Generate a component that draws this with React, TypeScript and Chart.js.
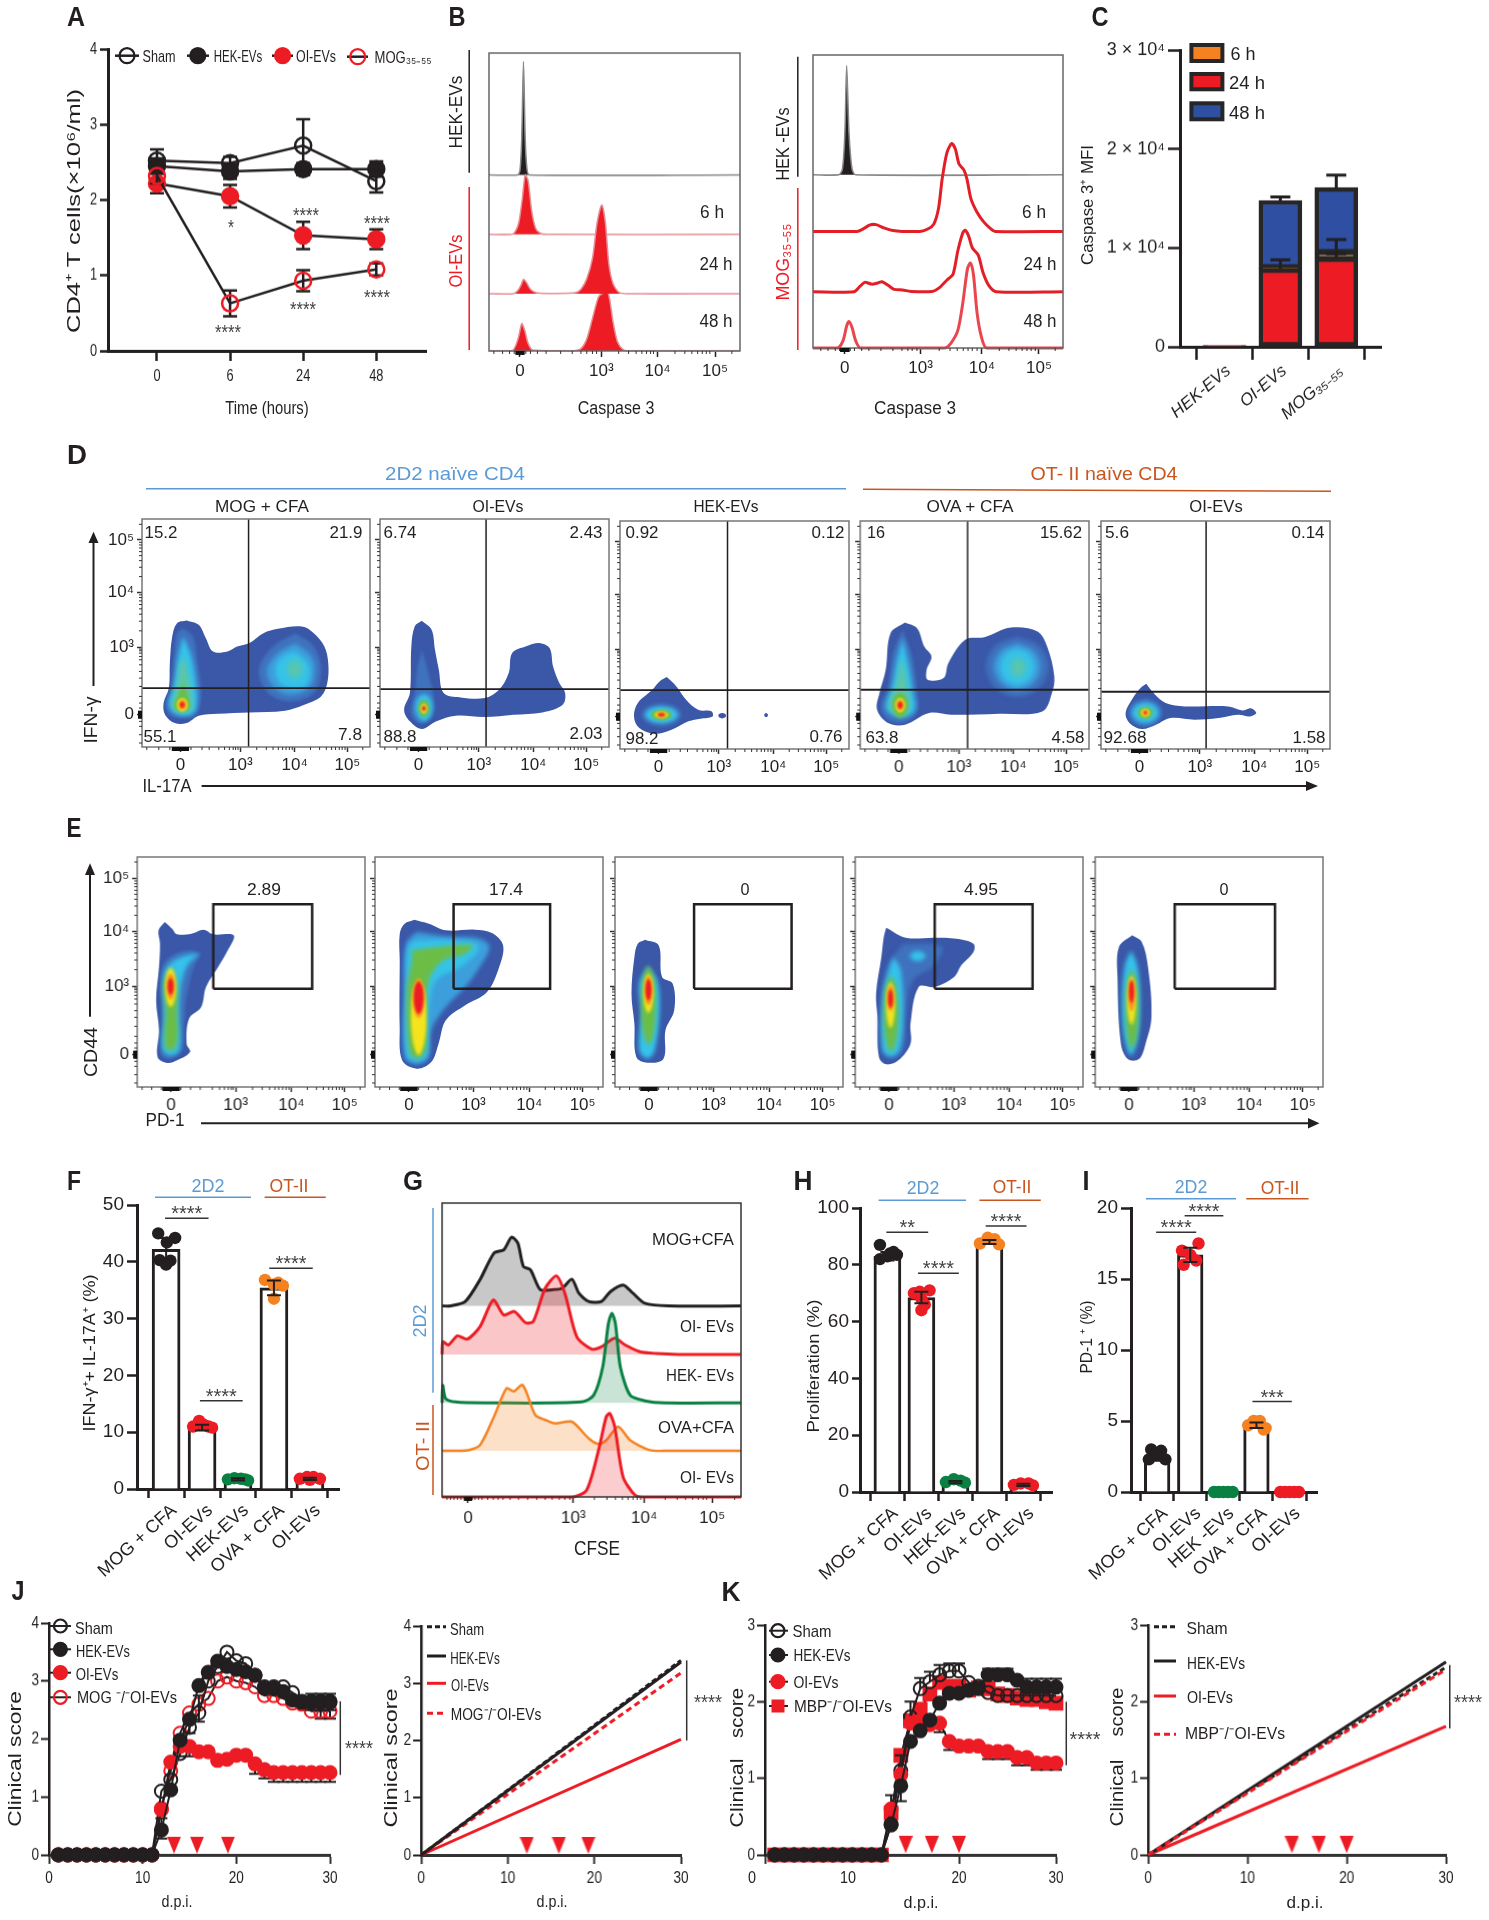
import React, { useEffect, useRef } from "react";
import { Chart, registerables } from "chart.js";

/* ---------- plugin that must run ahead of the Filler ---------- */
const contourBlur = {
  id: "contourBlur",
  beforeDatasetDraw(chart: any, args: any) {
    const b = chart.data.datasets[args.index].blur;
    if (b) chart.ctx.filter = `blur(${b}px)`;
  },
  afterDatasetDraw(chart: any, args: any) {
    if (chart.data.datasets[args.index].blur) chart.ctx.filter = "none";
  },
};
Chart.register(contourBlur as any);
Chart.register(...registerables);

function drawErr(chart: any, i: number) {
  const ds = chart.data.datasets[i];
  const meta = chart.getDatasetMeta(i);
  const yS = chart.scales.y;
  const k = yS.getPixelForValue(0) - yS.getPixelForValue(1);
  const ctx = chart.ctx;
  ctx.save();
  ctx.strokeStyle = ds.errColor || BLACK;
  ctx.lineWidth = ds.errWidth || 2;
  const cap = ds.capW || 7;
  meta.data.forEach((el: any, idx: number) => {
    const e = ds.err[idx];
    if (!e) return;
    const [u, d] = e;
    const x = el.x;
    const y = el.y;
    ctx.beginPath();
    ctx.moveTo(x, y - u * k);
    ctx.lineTo(x, y + d * k);
    if (u > 0) {
      ctx.moveTo(x - cap, y - u * k);
      ctx.lineTo(x + cap, y - u * k);
    }
    if (d > 0) {
      ctx.moveTo(x - cap, y + d * k);
      ctx.lineTo(x + cap, y + d * k);
    }
    ctx.stroke();
  });
  ctx.restore();
}
Chart.register({
  id: "whiskers",
  beforeDatasetDraw(chart: any, args: any) {
    const ds = chart.data.datasets[args.index];
    if (ds.err && !ds.errLate) drawErr(chart, args.index);
  },
  afterDatasetsDraw(chart: any) {
    chart.data.datasets.forEach((ds: any, i: number) => {
      if (ds.err && ds.errLate) drawErr(chart, i);
    });
  },
} as any);

/* ---------- palette and fonts ---------- */
const BLACK = "#231f20";
const RED = "#ed1c24";
const GREEN = "#0b8043";
const AMBER = "#f58220";
const BLUE = "#5b9bd5";
const RUST = "#c8561f";
const NAVY = "#2f4fa3";
const NARROW = '"Liberation Sans Narrow","Liberation Sans",Arial,sans-serif';
const SANS = '"Liberation Sans",Arial,sans-serif';
const DEEP = "#3a57a8";
const MID = "#3f72be";
const SKY = "#3c9fdc";
const CYAN = "#35c3ea";
const TEAL = "#5cc6a8";
const LEAF = "#6cbd45";
const YEL = "#f5e31d";
const ORG = "#f7941d";
const HOT = "#ed1c24";

/* ---------- A ---------- */
const A_TIMES = ["0", "6", "24", "48"];
const A_SHAM = [2.52, 2.49, 2.72, 2.25];
const A_HEK = [2.45, 2.38, 2.41, 2.41];
const A_OI = [2.22, 2.05, 1.53, 1.48];
const A_MOG = [2.32, 0.63, 0.93, 1.08];
const A_SHAM_ERR = [0.15, 0.08, 0.35, 0.15];
const A_HEK_ERR = [0.1, 0.1, 0.08, 0.1];
const A_OI_ERR = [0.13, 0.15, 0.18, 0.13];
const A_MOG_ERR = [0.1, 0.17, 0.14, 0.08];

/* ---------- B: histogram traces, [channel, height] ---------- */
const DECADE_LABELS = ["0", "10³", "10⁴", "10⁵"];
const B1_TICKS = [0, 1.4, 2.37, 3.36];
const B1_MINOR = [-0.45, -0.3, -0.18, -0.1, -0.05, 0.05, 0.1, 0.18, 0.3, 0.45, 0.7, 0.9, 1.05, 1.15, 1.25, 1.32, 1.7, 1.87, 2.0, 2.1, 2.18, 2.25, 2.3, 2.67, 2.84, 2.96, 3.06, 3.14, 3.21, 3.27, 3.65];
const B1_HEK = [[-0.04, 0], [0, 1.5], [0.03, 12], [0.06, 38], [0.09, 12], [0.12, 2], [0.16, 0]];
const B1_6H = [[-0.14, 0], [-0.08, 1], [-0.02, 4], [0.04, 12], [0.09, 20], [0.14, 18], [0.2, 8], [0.27, 2], [0.36, 0.3], [0.45, 0]];
const B1_24H = [[-0.12, 0], [-0.04, 1], [0.02, 3], [0.06, 4.8], [0.11, 3.8], [0.18, 1.5], [0.28, 0.3], [0.5, 0.1], [0.95, 0.3], [1.05, 1.5], [1.15, 5], [1.25, 12], [1.33, 24], [1.41, 29.8], [1.47, 24], [1.53, 10], [1.6, 3.5], [1.7, 0.5], [1.85, 0]];
const B1_48H = [[-0.14, 0], [-0.08, 1.5], [-0.02, 5], [0.03, 9.2], [0.08, 7], [0.14, 2.5], [0.22, 0.3], [0.9, 0], [1.05, 0.8], [1.15, 4], [1.25, 11], [1.35, 18], [1.42, 19.3], [1.52, 19.3], [1.6, 10], [1.68, 3], [1.78, 0.4], [1.9, 0]];
const B2_TICKS = [0, 1.26, 2.28, 3.23];
const B2_MINOR = [-0.4, -0.28, -0.16, -0.09, -0.04, 0.04, 0.09, 0.16, 0.28, 0.4, 0.6, 0.8, 0.95, 1.05, 1.12, 1.2, 1.57, 1.75, 1.87, 1.97, 2.05, 2.12, 2.2, 2.57, 2.73, 2.85, 2.95, 3.03, 3.1, 3.17, 3.5];
const B2_HEK = [[-0.1, 0], [-0.04, 2], [0, 14], [0.03, 37.2], [0.07, 14], [0.12, 2], [0.18, 0]];
const B2_6H = [[0.2, 0], [0.3, 0.8], [0.42, 2.2], [0.52, 2.3], [0.65, 1.2], [0.8, 0.3], [0.95, 0], [1.25, 0], [1.38, 0.8], [1.48, 2.5], [1.56, 8], [1.62, 18], [1.7, 27], [1.78, 30], [1.84, 28], [1.9, 23], [1.98, 21], [2.03, 18], [2.1, 11], [2.2, 6.5], [2.3, 3.5], [2.42, 1], [2.5, 0]];
const B2_24H = [[0.15, 0], [0.25, 1.8], [0.33, 3.2], [0.45, 2.6], [0.55, 3], [0.62, 3.4], [0.72, 2.2], [0.82, 0.8], [0.96, 0.6], [1.1, 0.1], [1.45, 0.1], [1.58, 1.5], [1.7, 4], [1.8, 6], [1.88, 14], [1.96, 20], [2.0, 21], [2.06, 19], [2.12, 15], [2.22, 12.5], [2.3, 6.5], [2.4, 2], [2.52, 0]];
const B2_48H = [[-0.12, 0], [-0.03, 2.5], [0.03, 7.5], [0.07, 9], [0.12, 7], [0.18, 2.5], [0.26, 0], [1.66, 0], [1.76, 1.5], [1.88, 6], [1.96, 15], [2.04, 27], [2.09, 29], [2.14, 25], [2.2, 12], [2.27, 4], [2.36, 0]];

/* ---------- C ---------- */
const C_LABELS = ["HEK-EVs", "OI-EVs", "MOG₃₅₋₅₅"];
const C_24H = [150, 7900, 9000];
const C_6H = [0, 50, 450];
const C_48H = [0, 6850, 6650];
const C_24H_ERR = [null, [900, 0], [400, 0]];
const C_6H_ERR = [null, null, [1400, 0]];
const C_48H_ERR = [null, [350, 0], [1250, 0]];

/* ---------- D: density contours in cytometer channels ---------- */
const D_X_TICKS = [0, 125, 238, 348];
const D_Y_TICKS = [0, 202, 368, 525];
const D_X_MINOR = [-70, -45, -22, -10, -5, 5, 10, 22, 45, 60, 80, 92, 102, 110, 115, 120, 159, 179, 193, 204, 213, 220, 227, 233, 271, 290, 304, 315, 323, 331, 337, 343, 380];
const D_Y_MINOR = [-85, -60, -35, -20, -10, -5, 5, 10, 20, 35, 55, 85, 110, 130, 150, 165, 175, 185, 192, 197, 252, 281, 302, 318, 331, 342, 352, 360, 415, 443, 463, 478, 490, 501, 510, 518, 572];

const D1_OUTER = [[13, 283], [38, 270], [53, 230], [68, 190], [98, 190], [118, 205], [143, 215], [173, 245], [203, 258], [253, 265], [278, 245], [300, 205], [308, 155], [306, 95], [293, 55], [258, 30], [218, 12], [143, 7], [78, 3], [38, -3], [13, -25], [-12, -25], [-32, 0], [-35, 35], [-24, 80], [-22, 155], [-17, 235], [-7, 275]];
const D1_L1 = [[6, 260], [26, 235], [36, 155], [43, 75], [40, 25], [28, -5], [3, -10], [-22, 0], [-30, 30], [-19, 85], [-12, 195], [-7, 245]];
const D1_L2 = [[6, 235], [23, 175], [33, 85], [33, 20], [20, 0], [-10, 3], [-24, 30], [-14, 85], [-5, 175]];
const D1_L3 = [[8, 175], [20, 95], [26, 30], [16, 7], [-7, 9], [-17, 30], [-7, 95], [0, 155]];
const D1_L4 = [[6, 95], [18, 45], [20, 23], [10, 12], [-6, 13], [-14, 27], [-6, 55]];
const D1_R1 = [[240, 245], [278, 205], [293, 135], [278, 65], [228, 40], [183, 65], [163, 135], [193, 205]];
const D1_R2 = [[240, 215], [273, 175], [280, 125], [268, 80], [228, 60], [193, 85], [180, 135], [203, 185]];
const D1_R3 = [[238, 190], [263, 160], [270, 125], [260, 87], [233, 80], [208, 95], [198, 140], [213, 175]];
const D2_OUTER = [[7, 282], [27, 255], [34, 195], [42, 135], [52, 65], [87, 52], [137, 50], [167, 75], [187, 125], [194, 185], [222, 205], [252, 215], [272, 200], [279, 145], [292, 95], [304, 65], [299, 30], [257, 7], [197, 0], [137, -7], [77, -3], [37, -20], [7, -43], [-18, -20], [-30, 15], [-18, 65], [-15, 205], [-8, 265]];
const D2_L1 = [[7, 195], [22, 115], [32, 45], [27, -5], [2, -25], [-15, 5], [-8, 65], [-3, 135]];
const D3_OUTER = [[17, 119], [37, 91], [57, 51], [82, 21], [110, 16], [112, 1], [87, -6], [62, -14], [27, -39], [-8, -51], [-40, -34], [-51, 1], [-43, 41], [-13, 81], [2, 106]];
const D4_OUTER = [[13, 283], [38, 266], [53, 211], [68, 181], [58, 141], [60, 111], [93, 116], [103, 161], [138, 231], [178, 239], [233, 268], [288, 256], [308, 211], [323, 121], [318, 71], [298, 16], [208, 9], [108, 6], [63, 11], [13, -24], [-22, -19], [-45, 21], [-40, 71], [-27, 141], [-17, 251]];
const D4_L1 = [[8, 261], [28, 181], [38, 71], [40, 21], [13, -17], [-22, -9], [-37, 31], [-22, 91], [-12, 191]];
const D4_L2 = [[8, 236], [20, 161], [30, 71], [33, 21], [13, -1], [-14, 6], [-27, 31], [-14, 91], [-4, 171]];
const D4_L3 = [[6, 181], [18, 91], [23, 26], [8, 6], [-10, 11], [-20, 36], [-7, 91]];
const D5_OUTER = [[14, 99], [29, 71], [54, 41], [94, 31], [184, 31], [214, 19], [232, 25], [242, 11], [229, 1], [204, 6], [164, -4], [114, -9], [64, -4], [34, -24], [4, -37], [-21, -19], [-29, 11], [-16, 51], [2, 86]];

/* ---------- E ---------- */
const E_X_TICKS = [0, 133, 248, 358];
const E_Y_TICKS = [0, 205, 371, 528];
const E_X_MINOR = [-60, -40, -20, -10, -5, 5, 10, 20, 40, 60, 85, 100, 110, 118, 124, 128, 168, 188, 203, 214, 222, 230, 237, 243, 281, 300, 314, 325, 333, 341, 347, 353, 390];
const E_Y_MINOR = [-85, -60, -35, -20, -10, -5, 5, 10, 20, 35, 55, 85, 112, 132, 152, 167, 178, 188, 195, 200, 255, 284, 305, 321, 334, 345, 355, 363, 418, 446, 466, 481, 493, 504, 513, 521, 578];
const E1_OUTER = [[-13, 398], [2, 378], [12, 361], [42, 363], [67, 375], [87, 361], [129, 358], [117, 313], [97, 263], [72, 203], [62, 143], [37, 108], [32, 33], [39, 8], [12, -17], [-8, -25], [-28, -7], [-25, 73], [-31, 163], [-25, 263], [-23, 333], [-26, 373]];
const E1_L1 = [[62, 303], [47, 263], [32, 173], [27, 93], [22, 13], [-3, -12], [-21, 3], [-18, 113], [-21, 243], [-3, 293], [37, 313]];
const E1_L2 = [[57, 303], [32, 263], [19, 193], [17, 113], [17, 13], [-3, -2], [-18, 18], [-15, 113], [-16, 233], [-3, 273], [32, 298]];
const E1_L3 = [[-1, 263], [12, 213], [12, 133], [12, 33], [-3, 11], [-13, 33], [-11, 133], [-15, 213]];
const E2_OUTER = [[11, 405], [41, 393], [76, 373], [136, 375], [171, 365], [194, 328], [186, 263], [161, 188], [116, 148], [76, 103], [61, 33], [46, -22], [16, -42], [-14, -17], [-19, 83], [-19, 283], [-19, 363], [-9, 393]];
const E2_L1 = [[16, 368], [76, 355], [146, 348], [166, 323], [146, 263], [116, 203], [76, 143], [46, 73], [41, -7], [16, -29], [-9, -7], [-11, 183], [-6, 333]];
const E2_L2 = [[16, 343], [86, 343], [141, 333], [141, 308], [106, 263], [56, 223], [41, 133], [36, -2], [16, -19], [-4, -2], [-4, 233], [-1, 323]];
const E2_L3 = [[6, 313], [76, 325], [131, 328], [116, 303], [71, 283], [41, 223], [36, 133], [34, 13], [16, -12], [1, 13], [-4, 193], [6, 283]];
const E3_OUTER = [[-8, 345], [20, 328], [27, 233], [49, 213], [52, 133], [34, 73], [30, -12], [-3, -24], [-26, -7], [-30, 93], [-36, 183], [-30, 293], [-23, 333]];
const E3_L2 = [[-3, 263], [17, 223], [22, 133], [12, 13], [-3, -12], [-20, 13], [-16, 133], [-20, 213]];
const E4_OUTER = [[-6, 381], [34, 351], [94, 351], [139, 348], [174, 333], [174, 308], [149, 268], [134, 233], [94, 203], [61, 203], [44, 93], [44, 33], [19, -17], [-6, -29], [-21, -7], [-24, 113], [-27, 183], [-16, 293], [-11, 353]];
const E4_L1 = [[29, 333], [109, 323], [89, 263], [49, 223], [34, 113], [29, 13], [4, -12], [-16, 13], [-16, 173], [-1, 273]];
const E4_L2 = [[9, 293], [24, 253], [29, 113], [21, 13], [4, -5], [-13, 13], [-13, 173], [-1, 253]];
const E5_OUTER = [[6, 358], [26, 338], [39, 263], [46, 113], [34, 33], [21, -12], [-2, -14], [-17, 33], [-24, 233], [-21, 323]];

/* ---------- F, H, I ---------- */
const GROUPS = ["MOG + CFA", "OI-EVs", "HEK-EVs", "OVA + CFA", "OI-EVs"];
const GROUPS_I = ["MOG + CFA", "OI-EVs", "HEK -EVs", "OVA + CFA", "OI-EVs"];
const GROUP_COLORS = [BLACK, RED, GREEN, AMBER, RED];
const F_MEANS = [42.2, 10.8, 1.7, 35.4, 1.8];
const F_ERR = [[2, 2], [0.5, 0.5], [0.2, 0.2], [1.3, 1.3], [0.2, 0.2]];
const F_DOTS = [
  [[-0.22, 45], [0.25, 44.2], [0.02, 43.4], [-0.18, 40.3], [0.12, 40.2], [0, 39.5]],
  [[-0.25, 11], [-0.08, 12], [0.05, 11.3], [0.18, 11], [0.28, 10.8]],
  [[-0.28, 1.7], [-0.1, 1.9], [0.08, 1.8], [0.2, 1.7], [0.28, 1.5]],
  [[-0.25, 36.8], [0, 36], [0.25, 35.8], [0, 33.5], [0.12, 36.3]],
  [[-0.28, 1.8], [-0.08, 2.1], [0.1, 2.1], [0.28, 1.8], [0, 1.6]],
];
const H_MEANS = [83, 68.5, 3.5, 88, 2.5];
const H_ERR = [[1.5, 1.5], [2, 2], [0.4, 0.4], [0.7, 0.7], [0.4, 0.4]];
const H_DOTS = [
  [[-0.22, 87], [0.18, 84.5], [0.28, 83.5], [-0.22, 82], [0, 83], [0.08, 84]],
  [[-0.22, 70], [0.24, 71], [0, 68], [0, 64], [0.1, 66], [-0.05, 70.5]],
  [[-0.28, 3.5], [-0.05, 4.5], [0.15, 4], [0.28, 3.3]],
  [[-0.28, 87.5], [-0.05, 89.5], [0.15, 89], [0.28, 87.2]],
  [[-0.28, 2.5], [-0.08, 3], [0.15, 3], [0.28, 2.3]],
];
const I_MEANS = [2.5, 16.7, 0.05, 4.7, 0.05];
const I_ERR = [[0.3, 0.3], [0.5, 0.5], null, [0.2, 0.2], null];
const I_DOTS = [
  [[-0.18, 3], [0.12, 2.9], [-0.25, 2.3], [0.25, 2.3], [0, 2.6]],
  [[-0.25, 17], [0.25, 17.5], [0, 16.7], [-0.2, 16], [0.18, 16.3]],
  [[-0.28, 0], [-0.14, 0], [0, 0], [0.14, 0], [0.28, 0]],
  [[-0.25, 4.7], [-0.08, 5], [0.1, 5], [0.28, 4.5], [0.22, 4.4]],
  [[-0.28, 0], [-0.14, 0], [0, 0], [0.14, 0], [0.28, 0]],
];
const F_BRACKETS = [{ x1: -0.03, x2: 1.18, y: 47.65, s: "****" }, { x1: 0.94, x2: 2.13, y: 15.55, s: "****" }, { x1: 2.87, x2: 4.08, y: 38.85, s: "****" }];
const H_BRACKETS = [{ x1: -0.03, x2: 1.2, y: 91.5, s: "**" }, { x1: 0.9, x2: 2.1, y: 77, s: "****" }, { x1: 2.89, x2: 4.09, y: 93.7, s: "****" }];
const I_BRACKETS = [{ x1: -0.03, x2: 1.18, y: 18.3, s: "****" }, { x1: 0.83, x2: 2, y: 19.45, s: "****" }, { x1: 2.88, x2: 4.07, y: 6.37, s: "***" }];

/* ---------- G ---------- */
const G_TICKS = [0, 1.5, 2.51, 3.48];
const G_MINOR = [-0.3, -0.25, -0.2, -0.15, -0.1, -0.05, 0.03, 0.06, 0.1, 0.15, 0.2, 0.28, 0.36, 0.43, 0.5, 0.6, 0.72, 0.85, 0.98, 1.1, 1.2, 1.3, 1.38, 1.45, 1.8, 1.98, 2.1, 2.2, 2.28, 2.35, 2.41, 2.46, 2.81, 2.98, 3.1, 3.2, 3.28, 3.35, 3.4, 3.8];
const G_MOG = [[-0.25, 0], [-0.04, 1.5], [0.17, 8.9], [0.37, 18], [0.51, 19.1], [0.62, 23.4], [0.71, 21.4], [0.79, 13.4], [0.89, 12.3], [1.03, 5.5], [1.2, 5.5], [1.34, 6], [1.48, 9.1], [1.58, 4.3], [1.72, 1.5], [1.9, 1.5], [2.03, 4.9], [2.21, 7.1], [2.35, 4.3], [2.52, 0.9], [2.86, 0]];
const G_OI = [[-0.36, 4.3], [-0.28, 3.2], [-0.15, 6.3], [-0.01, 5.2], [0.17, 9.4], [0.36, 18.5], [0.51, 13.4], [0.66, 14.6], [0.82, 10.8], [0.93, 11.2], [1.1, 22.5], [1.26, 26.7], [1.38, 20.8], [1.55, 6], [1.76, 1.8], [1.9, 2.6], [2.09, 5.5], [2.24, 3.2], [2.45, 0.9], [2.69, 0.3], [3, 0]];
const G_HEK = [[-0.36, 6], [-0.32, 1.5], [-0.18, 0.3], [0.24, 0], [1.62, 0.3], [1.79, 2.6], [1.92, 12.3], [2, 27], [2.05, 30.5], [2.1, 27], [2.17, 12.3], [2.31, 2.6], [2.52, 0.7], [2.8, 0]];
const G_OVA = [[0, 0.2], [0.17, 1.9], [0.37, 11.6], [0.55, 21.3], [0.65, 20.2], [0.78, 22.4], [0.96, 12.1], [1.1, 10.5], [1.24, 9.3], [1.48, 9.9], [1.72, 4.2], [1.86, 2.3], [1.97, 3.6], [2.14, 8.2], [2.31, 3.6], [2.59, 0.2], [2.86, 0]];
const G_OI2 = [[1.48, 0], [1.69, 2.3], [1.86, 15.9], [1.97, 27.3], [2.02, 28.4], [2.09, 23.9], [2.21, 6.8], [2.38, 0.6], [2.52, 0]];

/* ---------- J, K ---------- */
const DAYS = [1, 2, 3, 4, 5, 6, 7, 8, 9, 10, 11, 12, 13, 14, 15, 16, 17, 18, 19, 20, 21, 22, 23, 24, 25, 26, 27, 28, 29, 30];
const J_SHAM = [0, 0, 0, 0, 0, 0, 0, 0, 0, 0, 0, 1.1, 1.3, 1.75, 2.2, 2.45, 3.0, 3.25, 3.5, 3.35, 3.3, 3.1, 2.9, 2.9, 2.9, 2.8, 2.65, 2.65, 2.65, 2.65];
const J_HEK = [0, 0, 0, 0, 0, 0, 0, 0, 0, 0, 0, 0.43, 1.12, 1.98, 2.34, 2.92, 3.15, 3.34, 3.25, 3.2, 3.16, 3.1, 2.87, 2.87, 2.82, 2.67, 2.63, 2.63, 2.63, 2.63];
const J_OI = [0, 0, 0, 0, 0, 0, 0, 0, 0, 0, 0, 0.78, 1.6, 1.87, 1.87, 1.78, 1.78, 1.63, 1.65, 1.72, 1.72, 1.57, 1.47, 1.42, 1.42, 1.42, 1.42, 1.42, 1.42, 1.42];
const J_MOG = [0, 0, 0, 0, 0, 0, 0, 0, 0, 0, 0, 0.8, 1.45, 2.1, 2.45, 2.6, 2.7, 3.0, 3.07, 3.0, 2.97, 2.9, 2.75, 2.75, 2.7, 2.62, 2.6, 2.48, 2.48, 2.48];
const J_HEK_ERR: any = { 12: [0.2, 0.15], 28: [0.15, 0.13], 29: [0.15, 0.13], 30: [0.15, 0.13] };
const J_SHAM_ERR: any = { 15: [0.2, 0.1], 16: [0.3, 0.15] };
const J_OI_ERR: any = { 14: [0, 0.17], 15: [0, 0.17], 22: [0, 0.17], 23: [0, 0.15], 24: [0, 0.16], 25: [0, 0.16], 26: [0, 0.16], 27: [0, 0.16], 28: [0, 0.16], 29: [0, 0.16], 30: [0, 0.16] };
const J_MOG_ERR: any = { 29: [0, 0.13], 30: [0, 0.13] };
const J_DOSES = [13.35, 15.8, 19.1];
const J2_DOSES = [12.2, 15.9, 19.3];
const LINE_X = [0, 30];
const J2_SHAM = [0, 3.4];
const J2_HEK = [0, 3.37];
const J2_OI = [0, 2.02];
const J2_MOG = [0, 3.18];
const K_SHAM = [0, 0, 0, 0, 0, 0, 0, 0, 0, 0, 0, 0, 0.4, 1.1, 1.8, 2.17, 2.26, 2.35, 2.4, 2.4, 2.25, 2.2, 2.12, 2.08, 2.08, 2.08, 2.08, 2.08, 2.08, 2.08];
const K_HEK = [0, 0, 0, 0, 0, 0, 0, 0, 0, 0, 0, 0, 0.39, 0.9, 1.48, 1.62, 1.76, 1.98, 2.11, 2.11, 2.15, 2.17, 2.35, 2.35, 2.35, 2.28, 2.19, 2.19, 2.19, 2.19];
const K_OI = [0, 0, 0, 0, 0, 0, 0, 0, 0, 0, 0, 0, 0.6, 1.05, 1.72, 1.75, 1.7, 1.72, 1.48, 1.42, 1.42, 1.42, 1.35, 1.35, 1.35, 1.27, 1.27, 1.2, 1.2, 1.2];
const K_MBP = [0, 0, 0, 0, 0, 0, 0, 0, 0, 0, 0, 0, 0.55, 1.3, 1.75, 1.9, 2.1, 2.25, 2.2, 2.2, 2.15, 2.18, 2.17, 2.1, 2.08, 2.05, 2.03, 2.03, 2.0, 1.98];
const K_HEK_ERR: any = { 14: [0.06, 0.2], 22: [0.08, 0], 23: [0.08, 0], 24: [0.08, 0], 25: [0.08, 0], 27: [0.11, 0], 28: [0.11, 0], 29: [0.11, 0], 30: [0.11, 0] };
const K_SHAM_ERR: any = { 15: [0.2, 0], 16: [0.14, 0], 17: [0.13, 0], 18: [0.13, 0], 19: [0.1, 0], 20: [0.1, 0] };
const K_OI_ERR: any = { 13: [0.18, 0.18], 14: [0.25, 0], 18: [0, 0.12], 19: [0, 0.11], 23: [0, 0.1], 24: [0, 0.1], 25: [0, 0.1], 26: [0, 0.1], 27: [0, 0.1], 28: [0, 0.09], 29: [0, 0.09], 30: [0, 0.09] };
const K_DOSES = [14.5, 17.2, 20];
const K2_DOSES = [14.48, 17.2, 20];
const K2_SHAM = [0, 2.45];
const K2_HEK = [0, 2.52];
const K2_OI = [0, 1.68];
const K2_MBP = [0, 2.42];

/* ---------- helpers ---------- */
const pts = (xs: number[], ys: number[]) => xs.map((x, i) => ({ x, y: ys[i] }));
const closed = (p: number[][]) => [...p, p[0]].map(([x, y]) => ({ x, y }));
const spot = (cx: number, cy: number, rx: number, ry: number) =>
  closed([
    [cx, cy + ry], [cx + 0.7 * rx, cy + 0.7 * ry], [cx + rx, cy], [cx + 0.7 * rx, cy - 0.7 * ry],
    [cx, cy - ry], [cx - 0.7 * rx, cy - 0.7 * ry], [cx - rx, cy], [cx - 0.7 * rx, cy + 0.7 * ry],
  ]);
const poly = closed;

function contourSets(list: any[]) {
  return list.map(([color, blur, data]: any, i: number) => ({
    type: "scatter", showLine: true, data, borderWidth: 0, pointRadius: 0, fill: "shape",
    backgroundColor: color, tension: 0.35, order: 100 - i, blur, clip: false,
  }));
}
function lineSet(data: any[], color: string, width: number, order = -1) {
  return { type: "scatter", showLine: true, data, borderColor: color, borderWidth: width, pointRadius: 0, fill: false, tension: 0, order, backgroundColor: "transparent" };
}
function histSet(p: number[][], base: number, xr: number[], line: string, fill: string | null, lw: number, order: number) {
  const data = [{ x: xr[0], y: base }, ...p.map(([x, h]) => ({ x, y: base + h })), { x: xr[1], y: base }];
  return {
    type: "scatter", showLine: true, data, borderColor: line, borderWidth: lw, pointRadius: 0,
    fill: fill ? { value: base } : false, backgroundColor: fill || "transparent", tension: 0.25, order, clip: false,
  };
}
function triangle(color: string) {
  const c = document.createElement("canvas");
  c.width = 14; c.height = 17;
  const x = c.getContext("2d")!;
  x.fillStyle = color;
  x.beginPath(); x.moveTo(0, 0); x.lineTo(14, 0); x.lineTo(7, 17); x.closePath(); x.fill();
  return c;
}
function doseSet(xs: number[], y: number) {
  return {
    type: "scatter", data: xs.map((x) => ({ x, y })), pointStyle: triangle(RED), pointRadius: 8,
    backgroundColor: RED, order: -5, clip: false,
  };
}
function scale(axis: "x" | "y", s: any) {
  return {
    type: "linear", min: s.min, max: s.max, offset: false, stacked: s.stacked,
    afterFit: (sc: any) => { if (axis === "x") sc.height = s.margin; else sc.width = s.margin; },
    afterBuildTicks: (sc: any) => { sc.ticks = (s.ticks || []).map((v: number) => ({ value: v })); },
    grid: { display: !!s.ticks, drawOnChartArea: false, drawTicks: true, tickLength: s.tl ?? 6, tickWidth: s.tw ?? 2, tickColor: s.c ?? BLACK },
    border: { display: s.bw !== 0, color: s.c ?? BLACK, width: s.bw ?? 2.5 },
    ticks: {
      autoSkip: false, display: s.show !== false && !!s.ticks, color: BLACK, padding: s.pad ?? 4,
      maxRotation: s.rot ?? 0, minRotation: s.rot ?? 0, labelOffset: s.lo ?? 0,
      font: { family: SANS, size: s.size ?? 17, style: s.italic ? "italic" : "normal" },
      callback: (v: number, i: number) => (s.labels ? s.labels[i] : String(v)),
    },
  };
}
const framePlugin = (color: string, width: number) => ({
  id: "frame",
  afterDraw(chart: any) {
    const { left, right, top, bottom } = chart.chartArea;
    const c = chart.ctx;
    c.save(); c.strokeStyle = color; c.lineWidth = width; c.strokeRect(left, top, right - left, bottom - top); c.restore();
  },
});
const rugPlugin = (xs: number[], ys: number[], xBand?: number, yBand?: number) => ({
  id: "rug",
  afterDraw(chart: any) {
    const { left, bottom } = chart.chartArea;
    const c = chart.ctx; const { x, y } = chart.scales;
    c.save(); c.strokeStyle = "#333"; c.fillStyle = "#111"; c.lineWidth = 1; c.beginPath();
    xs.forEach((v) => { const p = x.getPixelForValue(v); c.moveTo(p, bottom); c.lineTo(p, bottom + 3); });
    ys.forEach((v) => { const p = y.getPixelForValue(v); c.moveTo(left, p); c.lineTo(left - 3, p); });
    c.stroke();
    if (xBand) {
      const a = x.getPixelForValue(-xBand), e = x.getPixelForValue(xBand);
      c.fillRect(a, bottom, e - a, 4);
    }
    if (yBand) {
      const a = y.getPixelForValue(yBand), e = y.getPixelForValue(-yBand);
      c.fillRect(left - 4, a, 4, e - a);
    }
    c.restore();
  },
});
const bracketPlugin = (list: any[]) => ({
  id: "brackets",
  afterDraw(chart: any) {
    const c = chart.ctx; const { x, y } = chart.scales;
    c.save(); c.strokeStyle = "#333"; c.lineWidth = 1.5; c.fillStyle = "#444";
    c.font = `20px ${NARROW}`; c.textAlign = "center"; c.textBaseline = "alphabetic";
    list.forEach((b) => {
      c.beginPath();
      if (b.v !== undefined) {
        c.moveTo(x.getPixelForValue(b.v), y.getPixelForValue(b.y1));
        c.lineTo(x.getPixelForValue(b.v), y.getPixelForValue(b.y2));
      } else {
        const a = x.getPixelForValue(b.x1), e = x.getPixelForValue(b.x2), p = y.getPixelForValue(b.y);
        c.moveTo(a, p); c.lineTo(e, p);
        if (b.s) c.fillText(b.s, (a + e) / 2, p + 2);
      }
      c.stroke();
    });
    c.restore();
  },
});

/* ---------- chart specifications ---------- */
function errs(map: any) { return DAYS.map((d) => map[d] || null); }

function specA() {
  const mk = (ys: number[], e: number[], point: string, fill: string, order: number) => ({
    type: "scatter", showLine: true, data: pts([0, 1, 2, 3], ys), borderColor: BLACK, borderWidth: 2.5, tension: 0,
    pointRadius: 8, pointBorderWidth: 2.5, pointBorderColor: point, pointBackgroundColor: fill,
    backgroundColor: "transparent", order, clip: false, err: e.map((v) => [v, v]), capW: 7, errWidth: 2.5,
  });
  return {
    rect: [108, 49.3, 426, 351], m: [60, 15, 20, 45], type: "scatter", sx: 0.75,
    datasets: [
      mk(A_SHAM, A_SHAM_ERR, BLACK, "transparent", 1),
      mk(A_HEK, A_HEK_ERR, BLACK, BLACK, 3),
      mk(A_OI, A_OI_ERR, RED, RED, 2),
      mk(A_MOG, A_MOG_ERR, RED, "transparent", 0),
    ],
    x: { min: -0.67, max: 3.68, ticks: [0, 1, 2, 3], labels: A_TIMES, tl: 10, tw: 2.5, bw: 3, pad: 5 },
    y: { min: 0, max: 4, ticks: [0, 1, 2, 3, 4], tl: 8, tw: 2.5, bw: 3, pad: 3 },
  };
}
function specB1() {
  const xr = [-0.534, 3.79];
  return {
    rect: [489, 53.3, 740, 350.7], m: [20, 15, 20, 40], type: "scatter",
    datasets: [
      histSet(B1_HEK, 59.1, xr, "#888", BLACK, 1.5, 4),
      histSet(B1_6H, 39.1, xr, "#e58f94", RED, 1.5, 3),
      histSet(B1_24H, 19.2, xr, "#e58f94", RED, 1.5, 2),
      histSet(B1_48H, 0, xr, "#e58f94", RED, 1.5, 5),
    ],
    x: { min: xr[0], max: xr[1], ticks: B1_TICKS, labels: DECADE_LABELS, tl: 6, tw: 1.5, bw: 0, pad: 4 },
    y: { min: 0, max: 100, bw: 0 },
    plugins: [framePlugin("#666", 1.5), rugPlugin(B1_MINOR, [], 0.08)],
  };
}
function specB2() {
  const xr = [-0.53, 3.63];
  return {
    rect: [813, 55, 1063, 348.3], m: [20, 15, 20, 40], type: "scatter",
    datasets: [
      histSet(B2_HEK, 59.1, xr, "#888", BLACK, 1.5, 4),
      histSet(B2_6H, 39.8, xr, "#e31e26", null, 3, 3),
      histSet(B2_24H, 19.2, xr, "#e31e26", null, 3, 2),
      histSet(B2_48H, 0, xr, "#e9474d", null, 3, 1),
    ],
    x: { min: xr[0], max: xr[1], ticks: B2_TICKS, labels: DECADE_LABELS, tl: 6, tw: 1.5, bw: 0, pad: 4 },
    y: { min: 0, max: 100, bw: 0 },
    plugins: [framePlugin("#666", 1.5), rugPlugin(B2_MINOR, [], 0.08)],
  };
}
function specC() {
  const mk = (ys: number[], e: any[], color: string) => ({
    type: "bar", data: pts([0, 1, 2], ys), backgroundColor: color, borderColor: "#262626", borderWidth: 4.5,
    borderSkipped: false, barThickness: 43, stack: "s", err: e, errLate: true, capW: 10, errWidth: 3,
  });
  return {
    rect: [1180.4, 50, 1381.5, 346.7], m: [90, 15, 20, 90], type: "bar",
    datasets: [mk(C_24H, C_24H_ERR, RED), mk(C_6H, C_6H_ERR, AMBER), mk(C_48H, C_48H_ERR, NAVY)],
    x: { min: -0.796, max: 2.8, ticks: [0, 1, 2], labels: C_LABELS, tl: 13, tw: 2.5, bw: 3, pad: 1, rot: 40, lo: 4, italic: true },
    y: { min: 0, max: 30000, ticks: [0, 10000, 20000, 30000], labels: ["0", "1 × 10⁴", "2 × 10⁴", "3 × 10⁴"], tl: 12, tw: 2.5, bw: 3, pad: 3, size: 18, stacked: true },
  };
}
function flowSpec(rect: number[], contours: any[], extra: any[], showY: boolean, kind: "D" | "E") {
  const D = kind === "D";
  const xr = D ? [-80, 395] : [-70, 400];
  const yr = D ? [-97, 588] : [-97, 593];
  return {
    rect, m: [60, 15, 15, 40], type: "scatter",
    datasets: [...contourSets(contours), ...extra],
    x: { min: xr[0], max: xr[1], ticks: D ? D_X_TICKS : E_X_TICKS, labels: DECADE_LABELS, tl: 5, tw: 1.5, c: "#333", bw: 0, pad: 3 },
    y: { min: yr[0], max: yr[1], ticks: D ? D_Y_TICKS : E_Y_TICKS, labels: DECADE_LABELS, show: showY, tl: 5, tw: 1.5, c: "#333", bw: 0, pad: 3 },
    plugins: [framePlugin("#777", 1.5), rugPlugin(D ? D_X_MINOR : E_X_MINOR, D ? D_Y_MINOR : E_Y_MINOR, 18, 12)],
  };
}
const quad = (vx: number, hy: number) => [
  lineSet(pts([vx, vx], [-97, 588]), BLACK, 1.5),
  lineSet(pts([-80, 395], [hy, hy]), BLACK, 1.8),
];
const gate = (a: number, b: number) => [lineSet(pts([a, b, b, a, a], [198, 198, 451, 451, 198]), BLACK, 2.5)];

function specD() {
  const Dy = [519, 747.3];
  const Dy2 = [520.7, 749.3];
  return [
    flowSpec([141.5, Dy[0], 370, Dy[1]], [
      [DEEP, 0.7, poly(D1_OUTER)], [MID, 1.5, poly(D1_R1)], [SKY, 2, poly(D1_R2)], [CYAN, 2, poly(D1_R3)], [TEAL, 3, spot(238, 137, 15, 28)],
      [MID, 1.5, poly(D1_L1)], [CYAN, 2, poly(D1_L2)], [TEAL, 2, poly(D1_L3)], [LEAF, 1.5, poly(D1_L4)],
      [YEL, 1.2, spot(4, 30, 11, 20)], [ORG, 1, spot(4, 30, 8, 15)], [HOT, 1, spot(4, 30, 5, 9)],
    ], quad(142, 80), true, "D"),
    flowSpec([379.5, Dy[0], 609, Dy[1]], [
      [DEEP, 0.7, poly(D2_OUTER)], [MID, 1.5, poly(D2_L1)], [CYAN, 2, spot(11, 22, 18, 42)], [LEAF, 1.5, spot(11, 20, 12, 26)],
      [YEL, 1, spot(11, 19, 7, 15)], [HOT, 1, spot(11, 19, 4, 8)],
    ], quad(140, 77), false, "D"),
    flowSpec([619.5, Dy2[0], 849, Dy2[1]], [
      [DEEP, 0.7, poly(D3_OUTER)], [DEEP, 0.7, spot(132, 3, 8, 8)], [DEEP, 0.5, spot(223, 5, 4, 6)], [SKY, 2, spot(6, 6, 38, 30)], [CYAN, 1.5, spot(6, 6, 30, 22)],
      [LEAF, 1.5, spot(6, 6, 22, 16)], [YEL, 1.2, spot(6, 6, 14, 10)], [ORG, 1, spot(6, 6, 10, 7)], [HOT, 1, spot(6, 6, 7, 5)],
    ], quad(143, 80), false, "D"),
    flowSpec([860.4, Dy2[0], 1089.2, Dy2[1]], [
      [DEEP, 0.7, poly(D4_OUTER)], [MID, 2, spot(246, 150, 65, 90)], [SKY, 2, spot(246, 150, 48, 70)], [CYAN, 2, spot(246, 150, 35, 55)], [TEAL, 3, spot(248, 148, 15, 30)],
      [MID, 1.5, poly(D4_L1)], [CYAN, 2, poly(D4_L2)], [TEAL, 2, poly(D4_L3)], [LEAF, 1.5, spot(3, 35, 16, 38)],
      [YEL, 1.2, spot(3, 35, 10, 22)], [ORG, 1, spot(3, 35, 7, 16)], [HOT, 1, spot(3, 35, 5, 11)],
    ], quad(143, 81), false, "D"),
    flowSpec([1101, Dy2[0], 1330, Dy2[1]], [
      [DEEP, 0.7, poly(D5_OUTER)], [SKY, 2, spot(12, 12, 32, 38)], [CYAN, 1.5, spot(12, 12, 24, 26)], [LEAF, 1.5, spot(12, 12, 16, 18)],
      [YEL, 1, spot(12, 12, 9, 12)], [ORG, 1, spot(12, 12, 6, 8)], [HOT, 1, spot(12, 12, 3, 5)],
    ], quad(138, 75), false, "D"),
  ];
}
function specE() {
  const y0 = 856.7, y1 = 1086.7;
  return [
    flowSpec([137, y0, 364.5, y1], [
      [DEEP, 0.7, poly(E1_OUTER)], [MID, 1.5, poly(E1_L1)], [CYAN, 2, poly(E1_L2)], [LEAF, 2, poly(E1_L3)],
      [YEL, 1.5, spot(-1, 203, 11, 60)], [ORG, 1.2, spot(-1, 205, 8, 40)], [HOT, 1, spot(-1, 205, 6, 25)],
    ], gate(87, 291), true, "E"),
    flowSpec([375, y0, 603, y1], [
      [DEEP, 0.7, poly(E2_OUTER)], [SKY, 2, poly(E2_L1)], [CYAN, 2, poly(E2_L2)], [LEAF, 2, poly(E2_L3)],
      [YEL, 1.5, spot(20, 113, 16, 115)], [ORG, 1.5, spot(20, 170, 12, 60)], [HOT, 1.2, spot(20, 172, 10, 50)],
    ], gate(92, 291), false, "E"),
    flowSpec([614.6, y0, 843.2, y1], [
      [DEEP, 0.7, poly(E3_OUTER)], [CYAN, 2, poly(E3_L2)], [LEAF, 2, spot(-1, 150, 15, 120)],
      [YEL, 1.5, spot(-1, 185, 10, 60)], [ORG, 1.2, spot(-1, 193, 8, 45)], [HOT, 1, spot(-1, 195, 6, 32)],
    ], gate(93, 294), false, "E"),
    flowSpec([855, y0, 1082.5, y1], [
      [DEEP, 0.7, poly(E4_OUTER)], [MID, 2, poly(E4_L1)], [CYAN, 2, spot(59, 296, 16, 15)], [CYAN, 2, poly(E4_L2)], [LEAF, 2, spot(4, 123, 15, 115)],
      [YEL, 1.5, spot(3, 150, 9, 70)], [ORG, 1.2, spot(3, 170, 7, 40)], [HOT, 1, spot(3, 168, 5, 28)],
    ], gate(94, 296), false, "E"),
    flowSpec([1095.4, y0, 1322.8, y1], [
      [DEEP, 0.7, poly(E5_OUTER)], [CYAN, 2, spot(4, 155, 19, 158)], [LEAF, 2, spot(6, 138, 13, 120)],
      [YEL, 1.5, spot(5, 165, 9, 75)], [ORG, 1.2, spot(5, 180, 7, 50)], [HOT, 1, spot(5, 190, 5, 35)],
    ], gate(94, 301), false, "E"),
  ];
}
function barSpec(rect: number[], xr: number[], ymax: number, yt: number[], means: number[], err: any[], dots: number[][][], brackets: any[], labels: string[], w: number, ytl: number) {
  return {
    rect, m: [60, 15, 25, 110], type: "bar",
    datasets: [
      ...dots.map((d, i) => ({
        type: "scatter", data: d.map(([dx, y]) => ({ x: i + dx, y })), backgroundColor: GROUP_COLORS[i], pointRadius: 6.2,
        pointBorderWidth: 0, order: 0, clip: false,
      })),
      {
        type: "bar", data: pts([0, 1, 2, 3, 4], means), backgroundColor: "#fff", borderColor: BLACK, borderWidth: 3, barThickness: w,
        order: 5, err, errLate: true, capW: 7, errWidth: 2,
      },
    ],
    x: { min: xr[0], max: xr[1], ticks: [0, 1, 2, 3, 4], labels, tl: 9, tw: 2.5, bw: 3, pad: 2, rot: 42, lo: 8, size: 18 },
    y: { min: 0, max: ymax, ticks: yt, tl: ytl, tw: 2.5, bw: 3, pad: 3, size: 19 },
    plugins: [bracketPlugin(brackets)],
  };
}
function specG() {
  const xr = [-0.37, 3.89];
  return {
    rect: [442, 1203.3, 740.6, 1496.7], m: [20, 15, 10, 40], type: "scatter",
    datasets: [
      histSet(G_OI2, 0, xr, RED, "rgba(237,28,36,0.22)", 3, 1),
      histSet(G_OVA, 15.7, xr, AMBER, "rgba(245,130,32,0.25)", 2.5, 2),
      histSet(G_HEK, 32, xr, GREEN, "rgba(11,128,67,0.22)", 3, 3),
      histSet(G_OI, 48.5, xr, RED, "rgba(237,28,36,0.25)", 3, 4),
      histSet(G_MOG, 65, xr, BLACK, "rgba(110,110,110,0.38)", 3, 5),
    ],
    x: { min: xr[0], max: xr[1], ticks: G_TICKS, labels: DECADE_LABELS, tl: 6, tw: 1.5, bw: 0, pad: 5 },
    y: { min: 0, max: 100, bw: 0 },
    plugins: [framePlugin("#333", 1.5), rugPlugin(G_MINOR, [], 0.06)],
  };
}
function clinical(ys: number[], point: string, fill: string, e: any, order: number, style = "circle", r = 6.5) {
  return {
    type: "scatter", showLine: true, data: pts(DAYS, ys), borderColor: BLACK, borderWidth: 2, tension: 0,
    pointRadius: r, pointBorderWidth: 2, pointBorderColor: point, pointBackgroundColor: fill, pointStyle: style,
    backgroundColor: "transparent", order, clip: false, err: errs(e), capW: 6, errWidth: 2,
  };
}
function clinicalAxes(ymax: number, yt: number[]) {
  return {
    x: { min: 0, max: 30, ticks: [0, 10, 20, 30], tl: 9, tw: 2, bw: 3, c: "#333", pad: 4 },
    y: { min: 0, max: ymax, ticks: yt, tl: 8, tw: 2, bw: 2.5, pad: 2 },
  };
}
function specJ() {
  return {
    rect: [49, 1623.3, 330.3, 1854.7], m: [40, 15, 20, 45], type: "scatter", sx: 0.8,
    datasets: [
      clinical(J_HEK, BLACK, BLACK, J_HEK_ERR, 0),
      clinical(J_OI, RED, RED, J_OI_ERR, 1),
      clinical(J_SHAM, BLACK, "transparent", J_SHAM_ERR, 2),
      clinical(J_MOG, RED, "transparent", J_MOG_ERR, 3),
      doseSet(J_DOSES, 0.17),
    ],
    ...clinicalAxes(4, [0, 1, 2, 3, 4]),
    plugins: [bracketPlugin([{ v: 31.1, y1: 2.65, y2: 1.38 }])],
  };
}
function straight(ys: number[], color: string, dash: number[], order: number) {
  return { type: "scatter", showLine: true, data: pts(LINE_X, ys), borderColor: color, borderWidth: 3, borderDash: dash, pointRadius: 0, tension: 0, order, clip: false, backgroundColor: "transparent" };
}
function specJ2() {
  return {
    rect: [421.4, 1625.7, 681, 1854.7], m: [40, 15, 20, 45], type: "scatter", sx: 0.8,
    datasets: [
      straight(J2_SHAM, BLACK, [5, 3], 0), straight(J2_HEK, BLACK, [], 1), straight(J2_MOG, RED, [6, 4], 2), straight(J2_OI, RED, [], 3),
      doseSet(J2_DOSES, 0.17),
    ],
    ...clinicalAxes(4, [0, 1, 2, 3, 4]),
    plugins: [bracketPlugin([{ v: 30.66, y1: 3.4, y2: 2.0 }])],
  };
}
function specK() {
  return {
    rect: [764.6, 1625, 1055.9, 1854.7], m: [40, 15, 20, 45], type: "scatter", sx: 0.8,
    datasets: [
      clinical(K_HEK, BLACK, BLACK, K_HEK_ERR, 0),
      clinical(K_OI, RED, RED, K_OI_ERR, 1),
      clinical(K_SHAM, BLACK, "transparent", K_SHAM_ERR, 2),
      clinical(K_MBP, RED, RED, {}, 3, "rect", 9),
      doseSet(K_DOSES, 0.135),
    ],
    ...clinicalAxes(3, [0, 1, 2, 3]),
    // the original sets its "0" and "10" labels apart from the axis; they are placed with the other page text
    x: { min: 0, max: 30, ticks: [0, 20, 30], labels: ["", "20", "30"], tl: 9, tw: 2, bw: 3, c: "#333", pad: 4 },
    plugins: [bracketPlugin([{ v: 31.06, y1: 2.0, y2: 1.17 }])],
  };
}
function specK2() {
  return {
    rect: [1148, 1625, 1445.8, 1854.7], m: [40, 15, 20, 45], type: "scatter", sx: 0.8,
    datasets: [
      straight(K2_MBP, RED, [6, 4], 0), straight(K2_SHAM, BLACK, [5, 3], 1), straight(K2_HEK, BLACK, [], 2), straight(K2_OI, RED, [], 3),
      doseSet(K2_DOSES, 0.135),
    ],
    ...clinicalAxes(3, [0, 1, 2, 3]),
    plugins: [bracketPlugin([{ v: 30.38, y1: 2.48, y2: 1.65 }])],
  };
}

/* ---------- chart component ---------- */
function Panel({ make, index }: { make: () => any; index?: number }) {
  const ref = useRef<HTMLCanvasElement>(null);
  const specRef = useRef<any>(null);
  if (!specRef.current) {
    const s = make();
    specRef.current = index === undefined ? s : s[index];
  }
  const s = specRef.current;
  const [x0, y0, x1, y1] = s.rect;
  const [l, t, r, b] = s.m;
  useEffect(() => {
    const cv = ref.current!;
    if (s.sx) {
      // the original uses a condensed face for its numerals
      const c: any = cv.getContext("2d");
      const draw = CanvasRenderingContext2D.prototype.fillText;
      c.fillText = (text: string, x: number, y: number) => {
        c.save(); c.translate(x, y); c.scale(s.sx, 1); draw.call(c, text, 0, 0); c.restore();
      };
    }
    const chart = new Chart(cv, {
      type: s.type,
      data: { datasets: s.datasets },
      plugins: s.plugins || [],
      options: {
        animation: false, responsive: false, devicePixelRatio: 1, events: [],
        layout: { padding: { left: 0, top: t, right: r, bottom: 0 } },
        plugins: { legend: { display: false }, tooltip: { enabled: false } },
        scales: { x: scale("x", { ...s.x, margin: b }), y: scale("y", { ...s.y, margin: l }) },
      },
    } as any);
    return () => chart.destroy();
  }, []);
  const W = x1 - x0 + l + r;
  const H = y1 - y0 + t + b;
  return (
    <canvas ref={ref} width={W} height={H}
      style={{ position: "absolute", left: x0 - l, top: y0 - t, width: W, height: H, pointerEvents: "none" }} />
  );
}

/* ---------- text ---------- */
const measure = document.createElement("canvas").getContext("2d")!;
type Lab = [string, number, number, number | null, number, any?];
function Label({ d }: { d: Lab }) {
  const [s, x, y, w, size, o = {}] = d;
  const font = o.font || NARROW;
  const weight = o.bold ? "bold" : "normal";
  measure.font = `${weight} ${size}px ${font}`;
  const sx = w ? w / measure.measureText(s).width : 1;
  return (
    <div style={{
      position: "absolute", left: x, top: y, whiteSpace: "nowrap", lineHeight: 1, color: o.color || BLACK,
      fontFamily: font, fontSize: size, fontWeight: weight,
      transform: `translate(-50%,-50%) rotate(${o.rot || 0}deg) scaleX(${sx})`,
    }}>{s}</div>
  );
}
const BOLD = { bold: true };
const UP = { rot: -90 };
const WIDE = { rot: -90, font: SANS };
const STAR = { color: "#444" };
const LABELS: Lab[] = [
  ["A", 76, 17, 18, 28, BOLD], ["B", 457, 17, 17, 28, BOLD], ["C", 1100, 17, 17, 28, BOLD], ["D", 76.6, 455, 20, 28, BOLD],
  ["E", 74, 828, 15, 28, BOLD], ["F", 73.7, 1181, 14, 28, BOLD], ["G", 412.6, 1181, 20, 28, BOLD], ["H", 802.8, 1181, 19, 28, BOLD],
  ["I", 1086.4, 1181, 7, 28, BOLD], ["J", 18, 1591, 13, 28, BOLD], ["K", 730.8, 1592, 19, 28, BOLD],
  // A
  ["CD4⁺ T cells(×10⁶/ml)", 72.7, 210.7, 245, 19, WIDE], ["Time (hours)", 266.6, 408, 83.4, 18],
  ["Sham", 158.5, 55.7, 33, 17], ["HEK-EVs", 237.5, 55.7, 48.5, 17], ["OI-EVs", 316, 55.7, 40, 17], ["MOG₃₅₋₅₅", 403.3, 56.7, 57, 17],
  ["*", 231, 227, 6, 20, STAR], ["****", 306.3, 214.7, 26, 20, STAR], ["****", 377, 222.7, 26, 20, STAR],
  ["****", 228, 332.3, 26, 20, STAR], ["****", 303.4, 309, 26, 20, STAR], ["****", 377, 296.7, 26, 20, STAR],
  // B
  ["HEK-EVs", 454.7, 111.7, 73, 19, WIDE], ["OI-EVs", 454.7, 261, 53, 19, { ...WIDE, color: RED }],
  ["6 h", 711.6, 211.7, 24, 18], ["24 h", 716.4, 264, 33, 18], ["48 h", 716.4, 320.7, 33, 18], ["Caspase 3", 615.7, 408.3, 76.6, 18],
  ["HEK -EVs", 782, 144, 73, 19, WIDE], ["MOG₃₅₋₅₅", 782, 261.7, 77, 19, { ...WIDE, color: RED }],
  ["6 h", 1034, 211.7, 24, 18], ["24 h", 1039.5, 264, 33, 18], ["48 h", 1039.5, 320.7, 33, 18], ["Caspase 3", 915.3, 408.3, 82, 18],
  // C
  ["Caspase 3⁺ MFI", 1087.3, 205, 120, 17, WIDE], ["6 h", 1242.5, 54.3, 25, 18], ["24 h", 1247.3, 83, 36, 18], ["48 h", 1247.3, 112.7, 36, 18],
  // D
  ["2D2 naïve CD4", 454.6, 473.3, 140, 19, { color: BLUE }], ["OT- II naïve CD4", 1103.5, 473.3, 147, 19, { color: RUST }],
  ["MOG + CFA", 262, 506.3, 94, 17], ["OI-EVs", 498, 506.3, 51, 17], ["HEK-EVs", 726, 506.3, 65, 17], ["OVA + CFA", 970.3, 506.3, 88, 17], ["OI-EVs", 1215.8, 506.3, 53.5, 17],
  ["15.2", 161, 531.7, 33, 17], ["21.9", 345.6, 531.7, 33, 17], ["55.1", 160, 735.7, 33, 17], ["7.8", 350, 734.3, 24, 17],
  ["6.74", 400, 531.7, 33, 17], ["2.43", 585.5, 531.7, 33, 17], ["88.8", 400, 735.7, 33, 17], ["2.03", 585.5, 732.7, 33, 17],
  ["0.92", 642, 531.7, 33, 17], ["0.12", 828.4, 531.7, 33, 17], ["98.2", 642, 737.7, 33, 17], ["0.76", 826, 735.7, 33, 17],
  ["16", 875.7, 531.7, 18, 17], ["15.62", 1061, 531.7, 42, 17], ["63.8", 881.9, 737.3, 33, 17], ["4.58", 1068, 737.3, 33, 17],
  ["5.6", 1117, 531.7, 24, 17], ["0.14", 1307.5, 531.7, 33, 17], ["92.68", 1125, 737.3, 43, 17], ["1.58", 1308.5, 737.3, 33, 17],
  ["IFN-γ", 90.6, 720, 47, 18, WIDE], ["IL-17A", 167, 785.7, 49, 18],
  // E
  ["2.89", 263.7, 889.3, 34, 17], ["17.4", 506, 889.3, 34, 17], ["0", 744.5, 889.3, 9, 17], ["4.95", 981, 889.3, 34, 17], ["0", 1224.4, 889.3, 9, 17],
  ["CD44", 90, 1051.7, 50, 19, WIDE], ["PD-1", 165, 1120, 39, 18],
  // F
  ["IFN-γ⁺+ IL-17A⁺ (%)", 89.7, 1353.3, 157, 16, WIDE],
  ["2D2", 208.4, 1185.7, 33, 18, { color: BLUE }], ["OT-II", 289, 1185.7, 39, 18, { color: RUST }],
  // G
  ["2D2", 420, 1320.7, 33, 18, { ...UP, color: BLUE }], ["OT- II", 422.7, 1446, 50, 18, { ...UP, color: RUST }],
  ["MOG+CFA", 693, 1239, 82, 17], ["OI- EVs", 706.7, 1325.7, 54, 17], ["HEK- EVs", 700, 1375, 68, 17], ["OVA+CFA", 696, 1426.7, 76, 17], ["OI- EVs", 706.7, 1477.3, 54, 17],
  ["CFSE", 597, 1548.3, 46, 20],
  // H
  ["Proliferation (%)", 813, 1366, 133, 17, WIDE], ["2D2", 922.7, 1188.3, 32.5, 18, { color: BLUE }], ["OT-II", 1012.4, 1186.7, 38.6, 18, { color: RUST }],
  // I
  ["PD-1 ⁺ (%)", 1086.8, 1336.7, 73, 16, WIDE], ["2D2", 1190.5, 1187.3, 32.5, 18, { color: BLUE }], ["OT-II", 1279.8, 1187.7, 38.6, 18, { color: RUST }],
  // J
  ["Clinical score", 15, 1759.3, 135.7, 18, WIDE], ["d.p.i.", 177.4, 1902.3, 31, 16], ["****", 358.6, 1748.3, 28, 20, STAR],
  ["Sham", 94.4, 1628.3, 37.8, 17], ["HEK-EVs", 102.9, 1650.7, 54, 17], ["OI-EVs", 97.2, 1674, 42.5, 17], ["MOG ⁻/⁻OI-EVs", 126.5, 1697.3, 100, 17],
  ["Clinical score", 390.7, 1757.7, 139, 18, WIDE], ["d.p.i.", 552, 1902.3, 31, 16], ["****", 707.9, 1702.3, 28, 20, STAR],
  ["Sham", 467.2, 1629, 34, 17], ["HEK-EVs", 475.2, 1658.3, 49.5, 17], ["OI-EVs", 469.5, 1685, 37.8, 17], ["MOG⁻/⁻OI-EVs", 495.5, 1714, 90.6, 17],
  // K
  ["Clinical", 737, 1792.7, 69, 18, WIDE], ["score", 737, 1713.3, 50, 18, WIDE], ["d.p.i.", 921, 1903, 35, 16], ["****", 1085.3, 1739, 31, 20, STAR],
  ["0", 752, 1877, 8, 17], ["10", 847.5, 1877, 16, 17],
  ["Sham", 812.2, 1631.3, 39, 17], ["HEK-EVs", 821.5, 1655, 57, 17], ["OI-EVs", 815.6, 1681.7, 45, 17], ["MBP⁻/⁻OI-EVs", 842.6, 1706, 98, 17],
  ["Clinical", 1117, 1793.3, 67, 18, WIDE], ["score", 1117, 1711.7, 49, 18, WIDE], ["d.p.i.", 1305, 1903, 37, 16], ["****", 1467.9, 1701.7, 28, 20, STAR],
  ["Sham", 1207, 1628.3, 41, 17], ["HEK-EVs", 1216.3, 1662.7, 58, 17], ["OI-EVs", 1210.4, 1697.3, 46, 17], ["MBP⁻/⁻OI-EVs", 1235, 1733.3, 100, 17],
];

/* ---------- rules, arrows and legend keys ---------- */
const RULES: [number, number, number, number, string, number, string?][] = [
  [469.2, 50, 469.2, 172.7, BLACK, 1.5], [469.2, 187, 469.2, 350, RED, 1.5], [797.8, 56.7, 797.8, 176.7, BLACK, 1.5], [797.8, 188, 797.8, 350, RED, 1.5],
  [146, 488.7, 846, 488.7, BLUE, 1.5], [863, 489.3, 1331, 491.3, RUST, 1.5],
  [155, 1197.3, 251, 1197.3, BLUE, 1.5], [264.6, 1197.3, 325.8, 1197.3, RUST, 1.5],
  [878.6, 1200.3, 966, 1200.3, BLUE, 1.5], [979.4, 1200.3, 1040.8, 1200.3, RUST, 1.5],
  [1145.9, 1198.7, 1236, 1198.7, BLUE, 1.5], [1246.3, 1198.7, 1308.6, 1198.7, RUST, 1.5],
  [433, 1208, 433, 1392.7, BLUE, 1.5], [433, 1405, 433, 1495, RUST, 1.5],
  [93.5, 686, 93.5, 540, BLACK, 2], [201.6, 786, 1308, 786, BLACK, 2], [90, 1016.7, 90, 872, BLACK, 2], [201, 1123.3, 1309, 1123.3, BLACK, 2],
  // legend line keys
  [115, 55.7, 139, 55.7, BLACK, 2.5], [187, 55.7, 209, 55.7, BLACK, 2.5], [272, 55.7, 293, 55.7, BLACK, 2.5], [347, 56.7, 368, 56.7, BLACK, 2.5],
  [49, 1626, 71, 1626, BLACK, 2], [49, 1649.3, 71, 1649.3, BLACK, 2], [49, 1672.7, 71, 1672.7, BLACK, 2], [49, 1697.3, 71, 1697.3, BLACK, 2],
  [427, 1626.7, 446, 1626.7, BLACK, 3, "5 3"], [427, 1656, 446, 1656, BLACK, 3], [427, 1683.3, 446, 1683.3, RED, 3], [427, 1713.3, 446, 1713.3, RED, 3, "6 4"],
  [769, 1630.7, 788, 1630.7, BLACK, 2], [769, 1655, 788, 1655, BLACK, 2], [769, 1681.7, 788, 1681.7, BLACK, 2], [769, 1706, 788, 1706, BLACK, 2],
  [1154, 1626.7, 1176, 1626.7, BLACK, 3, "5 3"], [1154, 1661, 1176, 1661, BLACK, 3], [1154, 1696, 1176, 1696, RED, 3], [1154, 1734.3, 1176, 1734.3, RED, 3, "6 4"],
];
const HEADS: string[] = [
  "93.5,531.7 88.5,543 98.5,543", "1318,786 1306,781 1306,791", "90,863.3 85,875 95,875", "1319.5,1123.3 1308,1118 1308,1128.6",
];
const KEYS: [number, number, number, string, string][] = [
  [127, 55.7, 7.5, BLACK, "none"], [197.8, 55.7, 7.5, BLACK, BLACK], [282.6, 55.7, 7.5, RED, RED], [357.7, 56.7, 7.5, RED, "none"],
  [60.4, 1626, 6.5, BLACK, "none"], [60.4, 1649.3, 6.5, BLACK, BLACK], [60.4, 1672.7, 6.5, RED, RED], [60.4, 1697.3, 6.5, RED, "none"],
  [777.9, 1630.7, 6.5, BLACK, "none"], [777.9, 1655, 6.5, BLACK, BLACK], [777.9, 1681.7, 6.5, RED, RED],
];
const SWATCHES: [number, number, number, number, string][] = [
  [1191.4, 45, 31, 16, AMBER], [1191.4, 74, 31, 15.3, RED], [1191.4, 103.3, 31, 16, NAVY],
];

function Overlay() {
  return (
    <svg width={1489} height={1920} style={{ position: "absolute", left: 0, top: 0, pointerEvents: "none" }}>
      {RULES.map(([a, b, c, d, col, w, dash], i) => (
        <line key={i} x1={a} y1={b} x2={c} y2={d} stroke={col} strokeWidth={w} strokeDasharray={dash} />
      ))}
      {HEADS.map((p, i) => <polygon key={i} points={p} fill={BLACK} />)}
      {KEYS.map(([x, y, r, col, fill], i) => <circle key={i} cx={x} cy={y} r={r} stroke={col} strokeWidth={2.2} fill={fill} />)}
      <rect x={771.5} y={1699.5} width={13} height={13} fill={RED} />
      {SWATCHES.map(([x, y, w, h, col], i) => <rect key={i} x={x} y={y} width={w} height={h} fill={col} stroke="#262626" strokeWidth={4} />)}
    </svg>
  );
}

const FLOW_D = [0, 1, 2, 3, 4];
export default function App() {
  return (
    <div style={{ position: "absolute", left: 0, top: 0, width: 1489, height: 1920, overflow: "hidden", background: "#fff" }}>
      <Panel make={specA} />
      <Panel make={specB1} />
      <Panel make={specB2} />
      <Panel make={specC} />
      {FLOW_D.map((i) => <Panel key={"d" + i} make={specD} index={i} />)}
      {FLOW_D.map((i) => <Panel key={"e" + i} make={specE} index={i} />)}
      <Panel make={() => barSpec([136.7, 1205, 339, 1489], [-0.81, 4.81], 50, [0, 10, 20, 30, 40, 50], F_MEANS, F_ERR, F_DOTS, F_BRACKETS, GROUPS, 28, 10)} />
      <Panel make={specG} />
      <Panel make={() => barSpec([860, 1208.3, 1052, 1492.3], [-0.806, 4.84], 100, [0, 20, 40, 60, 80, 100], H_MEANS, H_ERR, H_DOTS, H_BRACKETS, GROUPS, 27, 8)} />
      <Panel make={() => barSpec([1130.5, 1207.7, 1316.5, 1492.3], [-0.79, 4.83], 20, [0, 5, 10, 15, 20], I_MEANS, I_ERR, I_DOTS, I_BRACKETS, GROUPS_I, 25.6, 10)} />
      <Panel make={specJ} />
      <Panel make={specJ2} />
      <Panel make={specK} />
      <Panel make={specK2} />
      <Overlay />
      {LABELS.map((d, i) => <Label key={i} d={d} />)}
    </div>
  );
}
